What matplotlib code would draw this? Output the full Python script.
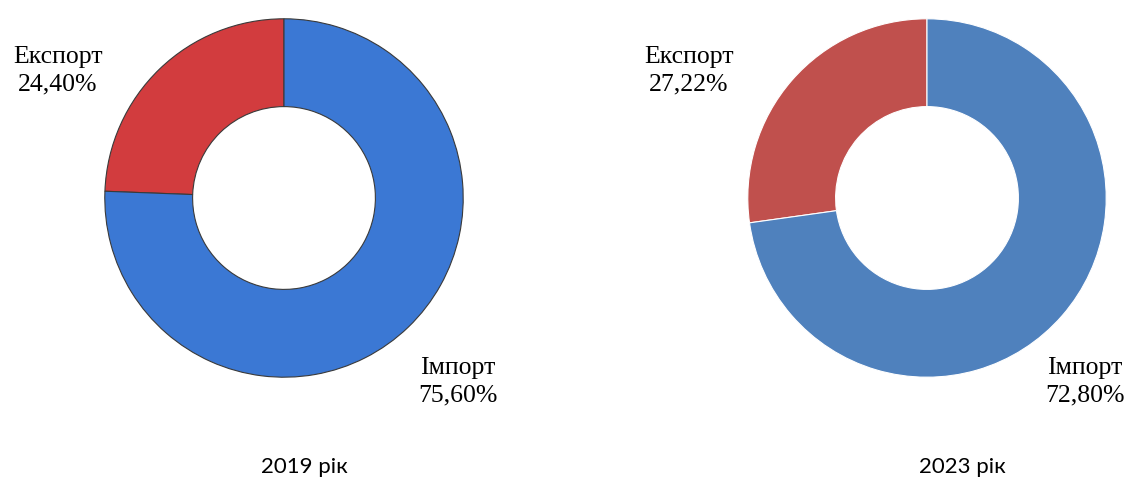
import matplotlib.pyplot as plt

# data
categories = ["Експорт", "Імпорт"]
share_2019 = [24.40, 75.60]
share_2023 = [27.22, 72.80]
year_titles = ["2019 рік", "2023 рік"]

W, H = 1128, 497
fig = plt.figure(figsize=(W / 100, H / 100), dpi=100)


def px_axes(cx, cy, r):
    # axes box in figure fraction from pixel centre/radius
    return fig.add_axes([(cx - r) / W, 1 - (cy + r) / H, 2 * r / W, 2 * r / H])


def donut(ax, values, colors, edge):
    ax.pie(values, colors=colors, startangle=90, counterclock=True,
           radius=1.0,
           wedgeprops=dict(width=0.49, edgecolor=edge, linewidth=0.8))
    ax.set_xlim(-1.01, 1.01)
    ax.set_ylim(-1.01, 1.01)
    ax.set_aspect("equal")
    ax.axis("off")


ax1 = px_axes(284, 198, 181)
donut(ax1, share_2019, ["#d23c3e", "#3b78d4"], "#3a3a3a")

ax2 = px_axes(927, 198, 181)
donut(ax2, share_2023, ["#c0504d", "#4f81bd"], "white")

serif = "Liberation Serif"
lab_kw = dict(ha="center", va="center", fontsize=18.5, family=serif, linespacing=1.3)

def fmt(v):
    return f"{v:.2f}".replace(".", ",") + "%"

# label positions in pixels
label_pos = [
    [(58, 71), (458, 382)],
    [(689, 71), (1085, 382)],
]
for shares, poss in zip([share_2019, share_2023], label_pos):
    for cat, val, (x, y) in zip(categories, shares, poss):
        fig.text(x / W, 1 - y / H, f"{cat}\n{fmt(val)}", **lab_kw)

for title, x in zip(year_titles, [304, 962]):
    fig.text(x / W, 1 - 467 / H, title, ha="center", va="center",
             fontsize=16, family="Lato")

fig.savefig("out.png", dpi=100, facecolor="white")
